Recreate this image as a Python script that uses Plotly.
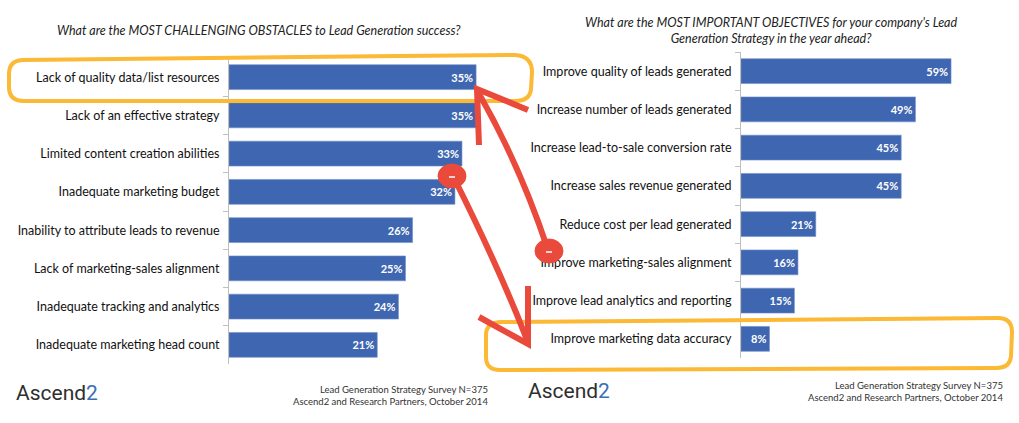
import plotly.graph_objects as go

W, H = 1019, 423

left_title = "What are the MOST CHALLENGING OBSTACLES to Lead Generation success?"
left_cats = ["Lack of quality data/list resources", "Lack of an effective strategy",
             "Limited content creation abilities", "Inadequate marketing budget",
             "Inability to attribute leads to revenue", "Lack of marketing-sales alignment",
             "Inadequate tracking and analytics", "Inadequate marketing head count"]
left_vals = [35, 35, 33, 32, 26, 25, 24, 21]

right_title = "What are the MOST IMPORTANT OBJECTIVES for your company's Lead<br>Generation Strategy in the year ahead?"
right_cats = ["Improve quality of leads generated", "Increase number of leads generated",
              "Increase lead-to-sale conversion rate", "Increase sales revenue generated",
              "Reduce cost per lead generated", "Improve marketing-sales alignment",
              "Improve lead analytics and reporting", "Improve marketing data accuracy"]
right_vals = [59, 49, 45, 45, 21, 16, 15, 8]

source_lines = "Lead Generation Strategy Survey N=375<br>Ascend2 and Research Partners, October 2014"

FONT = "Lato, Calibri, sans-serif"
BLUE = "#3F66B0"
ORANGE = "#FBB936"
RED = "#EA4A3B"
AXIS = "#BFBFBF"


def px(x, y):
    return f"{x / W:.5f},{1 - y / H:.5f}"


def path(cmds):
    out = []
    for c in cmds:
        if isinstance(c, str):
            out.append(c)
        else:
            out.append(px(*c))
    return " ".join(out)


fig = go.Figure()
fig.add_trace(go.Bar(
    y=left_cats, x=left_vals, orientation="h", xaxis="x", yaxis="y",
    marker=dict(color=BLUE, line=dict(color="#6F8FCB", width=0.6)),
    text=[f"{v}%" for v in left_vals], textposition="inside", insidetextanchor="end",
    textfont=dict(color="white", size=11, family=FONT, weight="bold"),
    cliponaxis=False, hoverinfo="skip"))
fig.add_trace(go.Bar(
    y=right_cats, x=right_vals, orientation="h", xaxis="x2", yaxis="y2",
    marker=dict(color=BLUE, line=dict(color="#6F8FCB", width=0.6)),
    text=[f"{v}%" for v in right_vals], textposition="inside", insidetextanchor="end",
    textfont=dict(color="white", size=11, family=FONT, weight="bold"),
    cliponaxis=False, hoverinfo="skip"))

ycommon = dict(showline=True, linecolor=AXIS, linewidth=1, ticks="outside",
               tickson="boundaries", ticklen=5, tickcolor=AXIS, showgrid=False,
               autorange="reversed", tickfont=dict(size=12.5, color="#111", family=FONT),
               ticklabelstandoff=6, fixedrange=True)

fig.update_layout(
    width=W, height=H, margin=dict(l=0, r=0, t=0, b=0),
    paper_bgcolor="white", plot_bgcolor="white", showlegend=False, bargap=0.35,
    font=dict(family=FONT),
    xaxis=dict(domain=[229 / W, (229 + 7.06 * 40) / W], range=[0, 40], visible=False,
               anchor="y", fixedrange=True),
    yaxis=dict(domain=[1 - 364 / H, 1 - 58 / H], anchor="x", **ycommon),
    xaxis2=dict(domain=[741 / W, (741 + 3.56 * 70) / W], range=[0, 70], visible=False,
                anchor="y2", fixedrange=True),
    yaxis2=dict(domain=[1 - 358 / H, 1 - 52 / H], anchor="x2", **ycommon),
)

ann = []
ann.append(dict(text=f"<i>{left_title}</i>", x=259 / W, y=1 - 31 / H, xref="paper", yref="paper",
                showarrow=False, font=dict(size=12.5, color="#222", family=FONT),
                xanchor="center", yanchor="middle"))
ann.append(dict(text=f"<i>{right_title}</i>", x=771 / W, y=1 - 31 / H, xref="paper", yref="paper",
                showarrow=False, font=dict(size=12.5, color="#222", family=FONT),
                xanchor="center", yanchor="middle", align="center"))
for lx, ly in [(14, 393), (526, 391)]:
    ann.append(dict(text="Ascend<span style='color:#3C6EB6'>2</span>", x=lx / W, y=1 - ly / H,
                    xref="paper", yref="paper", showarrow=False, xanchor="left", yanchor="middle",
                    font=dict(size=21, color="#2E2E2E", family="Roboto, sans-serif")))
for rx, ry in [(490, 395), (1005, 391)]:
    ann.append(dict(text=source_lines, x=rx / W, y=1 - ry / H, xref="paper", yref="paper",
                    showarrow=False, xanchor="right", yanchor="middle", align="right",
                    font=dict(size=9.5, color="#333", family=FONT)))
fig.update_layout(annotations=ann)

shapes = []
# Orange hand-drawn highlight boxes
shapes.append(dict(type="path", xref="paper", yref="paper", line=dict(color=ORANGE, width=4),
                   path=path(["M", (22, 60), "L", (400, 56), "L", (515, 55), "Q", (532, 56), (532, 72),
                              "L", (531, 89), "Q", (530, 101), (515, 101), "L", (24, 101),
                              "Q", (9, 101), (9, 87), "L", (9, 74), "Q", (9, 61), (22, 60)])))
shapes.append(dict(type="path", xref="paper", yref="paper", line=dict(color=ORANGE, width=4),
                   path=path(["M", (500, 322), "L", (998, 318), "Q", (1012, 318), (1012, 332),
                              "L", (1011, 356), "Q", (1010, 368), (996, 368), "L", (500, 370),
                              "Q", (486, 370), (486, 357), "L", (486, 335), "Q", (486, 323), (500, 322)])))
# Red arrows
shapes.append(dict(type="path", xref="paper", yref="paper", line=dict(color=RED, width=6),
                   path=path(["M", (548, 250), "Q", (520, 165), (478, 92)])))
shapes.append(dict(type="path", xref="paper", yref="paper", line=dict(color=RED, width=6),
                   path=path(["M", (528, 110), "L", (477, 89), "L", (479, 145)])))
shapes.append(dict(type="path", xref="paper", yref="paper", line=dict(color=RED, width=6),
                   path=path(["M", (455, 180), "Q", (500, 270), (527, 340)])))
shapes.append(dict(type="path", xref="paper", yref="paper", line=dict(color=RED, width=6),
                   path=path(["M", (479, 317), "L", (528, 344), "L", (528, 286)])))
# Red dots
for cx, cy in [(549, 251), (452, 176)]:
    shapes.append(dict(type="circle", xref="paper", yref="paper",
                       x0=(cx - 14) / W, x1=(cx + 14) / W, y0=1 - (cy + 12) / H, y1=1 - (cy - 12) / H,
                       fillcolor=RED, line=dict(color=RED, width=1)))
    shapes.append(dict(type="line", xref="paper", yref="paper",
                       x0=(cx - 3) / W, x1=(cx + 3) / W, y0=1 - (cy + 1) / H, y1=1 - (cy + 1) / H,
                       line=dict(color="white", width=1.5)))
fig.update_layout(shapes=shapes)

fig.write_html("out.html", config={"displayModeBar": False})
